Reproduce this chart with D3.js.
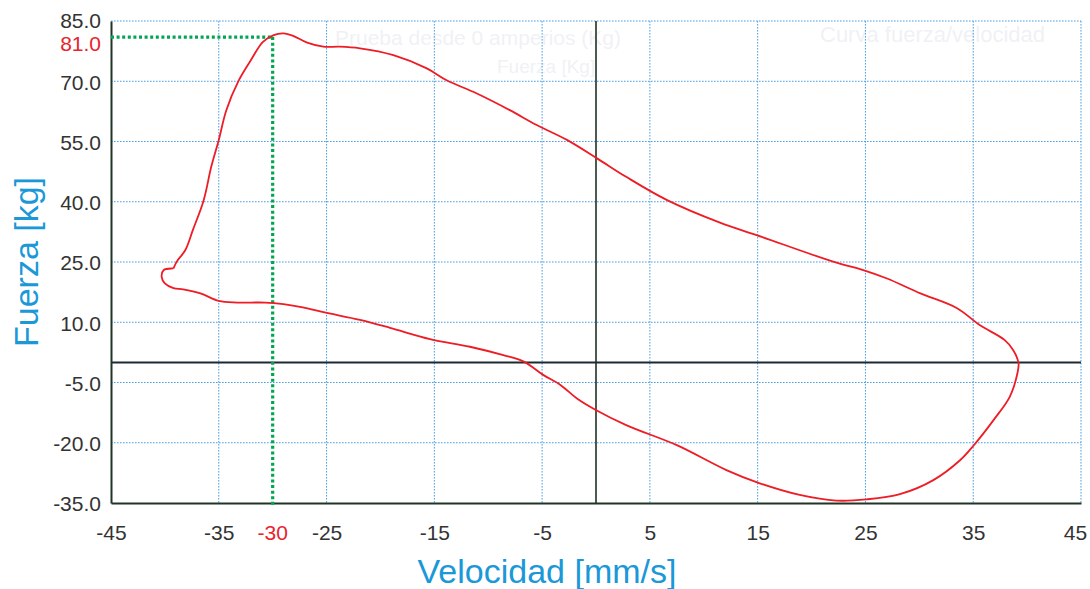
<!DOCTYPE html>
<html>
<head>
<meta charset="utf-8">
<script src="https://cdn.jsdelivr.net/npm/d3@7"></script>
<style>
  html, body { margin: 0; padding: 0; background: #ffffff; }
  svg { display: block; }
</style>
</head>
<body>
<svg id="chart" width="1090" height="589"></svg>
<script>
// Force / velocity loop of the damper test
const velocidad = [
  -39.2, -38.9, -38.1, -37.4, -36.4, -35.7, -35.0, -34.3, -33.2, -32.1,
  -30.9, -29.9, -29.0, -28.1, -26.8, -25.3, -23.8, -21.9, -18.8, -15.7,
  -13.9, -11.1, -8.0, -5.5, -2.7, 0.1, 2.8, 6.6, 11.5, 14.9,
  22.0, 24.8, 27.0, 30.1, 33.5, 35.6, 37.9, 38.7, 39.2, 39.1,
  38.4, 36.9, 35.0, 33.8, 31.3, 28.2, 25.1, 22.3, 18.9, 15.2,
  12.1, 7.5, 2.8, -0.1, -1.8, -3.3, -4.9, -6.7, -8.6, -11.7,
  -15.4, -19.1, -21.9, -25.3, -27.2, -29.0, -30.7, -33.3, -35.0, -36.7,
  -38.3, -39.2, -40.0, -40.3, -40.1, -39.3, -39.2
];
const fuerza = [
  23.4, 25.1, 28.0, 33.0, 40.4, 48.7, 55.4, 62.8, 69.9, 74.9,
  79.8, 81.5, 81.9, 81.3, 79.6, 78.6, 78.6, 78.2, 76.5, 73.2,
  70.3, 67.0, 62.8, 59.1, 55.4, 50.8, 46.2, 40.4, 34.8, 31.7,
  25.1, 23.0, 20.9, 17.2, 13.5, 9.3, 5.6, 3.1, -0.1, -2.7,
  -8.5, -14.3, -20.8, -24.3, -29.3, -32.8, -34.1, -34.4, -33.0, -30.1,
  -26.8, -20.6, -15.6, -11.7, -8.9, -5.6, -3.1, 0.2, 1.8, 3.9,
  5.8, 8.6, 10.6, 12.5, 13.7, 14.5, 14.9, 14.9, 15.3, 17.2,
  18.2, 18.5, 19.7, 21.3, 23.0, 23.4, 23.4
];

// Axis ticks and grid
const xTicks = [-45, -35, -25, -15, -5, 5, 15, 25, 35, 45];
const yTicks = [85, 70, 55, 40, 25, 10, -5, -20, -35];
const xDomain = [-45, 45];
const yDomain = [-35, 85];

// Highlighted reading on the curve
const markVelocidad = -30;
const markFuerza = 81.0;

// Faint print-through texts on the sheet
const ghostTexts = [
  { text: "Curva fuerza/velocidad", x: 820, y: 42, size: 22 },
  { text: "Prueba desde 0 amperios (Kg)", x: 335, y: 45, size: 21 },
  { text: "Fuerza [Kg]", x: 497, y: 73, size: 19 }
];

const W = 1090, H = 589;
const margin = { top: 21, right: 9, bottom: 86, left: 111 };
const svg = d3.select("#chart");

const x = d3.scaleLinear().domain(xDomain).range([margin.left, W - margin.right]);
const y = d3.scaleLinear().domain(yDomain).range([H - margin.bottom, margin.top]);

const FONT = "'Liberation Sans', Arial, Helvetica, sans-serif";
const gridColor = "#4b9fe3";
const axisColor = "#1f3526";
const titleColor = "#1a98d8";
const labelColor = "#333333";
const markColor = "#e8242c";
const guideColor = "#00a650";
const tickSize = 21;

// plain hyphen as minus sign
const fmtInt = v => d3.format("d")(v).replace("\u2212", "-");
const fmtDec = v => d3.format(".1f")(v).replace("\u2212", "-");

// print-through
const ghost = svg.append("g").attr("fill", "#cfd3dc").attr("opacity", 0.3);
ghostTexts.forEach(g => {
  ghost.append("text")
    .attr("x", g.x).attr("y", g.y)
    .attr("font-family", FONT).attr("font-size", g.size)
    .text(g.text);
});

// dotted grid
const grid = svg.append("g")
  .attr("stroke", gridColor).attr("stroke-width", 1).attr("stroke-dasharray", "1.6,1.4");
grid.selectAll("line.v").data(xTicks.filter(v => v !== xDomain[0]))
  .join("line").attr("class", "v")
  .attr("x1", d => x(d)).attr("x2", d => x(d))
  .attr("y1", y(yDomain[1])).attr("y2", y(yDomain[0]));
grid.selectAll("line.h").data(yTicks.filter(v => v !== yDomain[0]))
  .join("line").attr("class", "h")
  .attr("x1", x(xDomain[0])).attr("x2", x(xDomain[1]))
  .attr("y1", d => y(d)).attr("y2", d => y(d));

// zero lines
svg.append("line")
  .attr("x1", x(0)).attr("x2", x(0)).attr("y1", y(yDomain[1])).attr("y2", y(yDomain[0]))
  .attr("stroke", "#1d3322").attr("stroke-width", 1.6);
svg.append("line")
  .attr("x1", x(xDomain[0])).attr("x2", x(xDomain[1])).attr("y1", y(0)).attr("y2", y(0))
  .attr("stroke", "#1c2b33").attr("stroke-width", 2);

// left and bottom axes
const xAxis = d3.axisBottom(x).tickValues(xTicks).tickSize(0).tickFormat(fmtInt);
const yAxis = d3.axisLeft(y).tickValues(yTicks).tickSize(0).tickFormat(fmtDec);

const gx = svg.append("g").attr("transform", `translate(0,${y(yDomain[0])})`).call(xAxis);
gx.select(".domain").attr("stroke", axisColor).attr("stroke-width", 2);
gx.selectAll("text")
  .attr("font-family", FONT).attr("font-size", tickSize).attr("fill", labelColor)
  .attr("dy", 0).attr("y", 37);
gx.selectAll(".tick").filter(d => d === xDomain[1]).select("text").attr("x", -6);

const gy = svg.append("g").attr("transform", `translate(${x(xDomain[0])},0)`).call(yAxis);
gy.select(".domain").attr("stroke", axisColor).attr("stroke-width", 2);
gy.selectAll("text")
  .attr("font-family", FONT).attr("font-size", tickSize).attr("fill", labelColor)
  .attr("x", -10).attr("dy", "0.38em");
gy.selectAll(".tick").filter(d => d === yDomain[1]).select("text").attr("dy", "0.3em");

// guide lines for the marked reading
const guides = svg.append("g")
  .attr("stroke", guideColor).attr("stroke-width", 3.2).attr("stroke-dasharray", "3,2.6").attr("fill", "none");
guides.append("line")
  .attr("x1", x(xDomain[0])).attr("x2", x(markVelocidad))
  .attr("y1", y(markFuerza)).attr("y2", y(markFuerza));
guides.append("line")
  .attr("x1", x(markVelocidad)).attr("x2", x(markVelocidad))
  .attr("y1", y(markFuerza)).attr("y2", y(yDomain[0]) + 3);

// marked tick labels
svg.append("text")
  .attr("x", x(xDomain[0]) - 10).attr("y", y(markFuerza)).attr("dy", "0.68em")
  .attr("text-anchor", "end").attr("font-family", FONT).attr("font-size", tickSize)
  .attr("fill", markColor).text(fmtDec(markFuerza));
svg.append("text")
  .attr("x", x(markVelocidad)).attr("y", y(yDomain[0]) + 37)
  .attr("text-anchor", "middle").attr("font-family", FONT).attr("font-size", tickSize)
  .attr("fill", markColor).text(fmtInt(markVelocidad));

// force / velocity curve
const pts = velocidad.map((v, i) => [v, fuerza[i]]);
const line = d3.line()
  .x(d => x(d[0])).y(d => y(d[1]))
  .curve(d3.curveCatmullRom.alpha(0.5));
svg.append("path")
  .datum(pts)
  .attr("d", line)
  .attr("fill", "none")
  .attr("stroke", "#ee1c25")
  .attr("stroke-width", 1.8)
  .attr("stroke-linejoin", "round");

// axis titles
svg.append("text")
  .attr("x", 547).attr("y", 583)
  .attr("text-anchor", "middle").attr("font-family", FONT).attr("font-size", 34)
  .attr("fill", titleColor).text("Velocidad [mm/s]");
svg.append("text")
  .attr("transform", `translate(38,${(y(yDomain[0]) + y(yDomain[1])) / 2}) rotate(-90)`)
  .attr("text-anchor", "middle").attr("font-family", FONT).attr("font-size", 34)
  .attr("fill", titleColor).text("Fuerza [kg]");
</script>
</body>
</html>
